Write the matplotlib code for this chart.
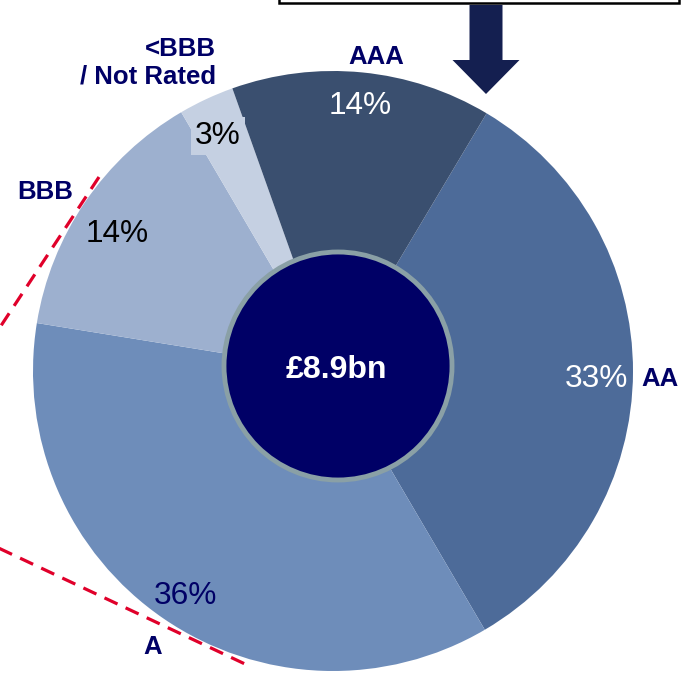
import matplotlib.pyplot as plt
from matplotlib.patches import Circle, FancyArrow

plt.rcParams['font.family'] = ['Liberation Sans', 'DejaVu Sans']

# rating split, clockwise from the AAA/AA boundary
ratings = ['AA', 'A', 'BBB', '<BBB\n/ Not Rated', 'AAA']
shares = [33, 36, 14, 3, 14]
colours = ['#4d6b99', '#6e8dba', '#9db0cf', '#c5d0e2', '#3a4f6f']
total_label = '£8.9bn'

navy = '#000066'
W, H = 683, 677

fig = plt.figure(figsize=(W / 100, H / 100), dpi=100)
ax = fig.add_axes([0, 0, 1, 1])

cx, cy, r = 333, H - 371, 300
ax.pie(shares, colors=colours, startangle=59.2, counterclock=False,
       center=(cx, cy), radius=r, frame=True, wedgeprops=dict(linewidth=0))
ax.set_xlim(0, W)
ax.set_ylim(0, H)
ax.set_aspect('equal')
ax.axis('off')

# centre disc
ax.add_patch(Circle((cx + 5, cy + 5), 114, facecolor=navy, edgecolor='#8aa0a6',
                    linewidth=3.5, zorder=5))
ax.text(cx + 3, cy + 1, total_label, color='white', fontsize=23, fontweight='bold',
        ha='center', va='center', zorder=6)

# percentages
pct = [f'{v}%' for v in shares]
fs = 22.8
ax.text(596, H - 379, pct[0], color='white', fontsize=fs, ha='center', va='center')
ax.text(185, H - 596, pct[1], color=navy, fontsize=fs, ha='center', va='center')
ax.text(117, H - 234, pct[2], color='black', fontsize=fs, ha='center', va='center')
ax.text(218, H - 136, pct[3], color='black', fontsize=fs, ha='center', va='center',
        bbox=dict(boxstyle='square,pad=0.12', facecolor=colours[3], edgecolor='none'))
ax.text(360, H - 106, pct[4], color='white', fontsize=fs, ha='center', va='center')

# category names
lab = dict(color=navy, fontsize=18.5, fontweight='bold', va='center')
ax.text(660, H - 379, ratings[0], ha='center', **lab)
ax.text(153, H - 647, ratings[1], ha='center', **lab)
ax.text(45, H - 192, ratings[2], ha='center', **lab)
ax.text(216, H - 63, ratings[3], ha='right', linespacing=1.2, **lab)
ax.text(376, H - 57, ratings[4], ha='center', **lab)

# red guide lines
red = dict(color='#e0002a', linewidth=2.3, linestyle=(0, (4.5, 2.8)), zorder=7)
ax.plot([99, -15], [H - 177, H - 350], **red)
ax.plot([-10, 245], [H - 544, H - 664], **red)

# box edge at the top and the arrow under it
ax.plot([279, 279, 679, 679], [H + 5, H - 3, H - 3, H + 5], color='black',
        linewidth=1.8, solid_joinstyle='miter', clip_on=False)
ax.add_patch(FancyArrow(486, H - 5, 0, -89, width=33, head_width=67, head_length=34,
                        length_includes_head=True, facecolor='#141f50',
                        edgecolor='none'))

fig.savefig('out.png', dpi=100)
